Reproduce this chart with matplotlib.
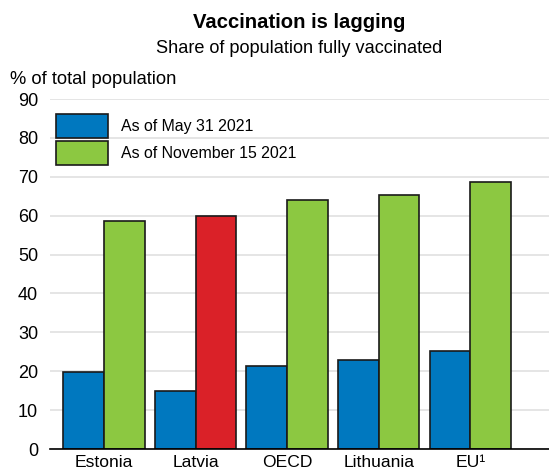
import matplotlib
matplotlib.use("Agg")
import matplotlib.pyplot as plt
import numpy as np
from matplotlib.patches import Patch

plt.rcParams['font.family'] = ['Liberation Sans', 'DejaVu Sans']

categories = ["Estonia", "Latvia", "OECD", "Lithuania", "EU\u00b9"]
may_2021 = [19.7, 14.8, 21.3, 22.8, 25.2]
nov_2021 = [58.7, 59.9, 64.0, 65.3, 68.7]
yticks = [0, 10, 20, 30, 40, 50, 60, 70, 80, 90]
legend_labels = ["As of May 31 2021", "As of November 15 2021"]

blue = "#0078BF"
green = "#8CC841"
red = "#DA2128"
nov_colors = [red if c == "Latvia" else green for c in categories]

fig = plt.figure(figsize=(5.49, 4.72), dpi=100)
ax = fig.add_axes([50/549, 1-449/472, 1-50/549, (449-99)/472])

x = np.arange(len(categories))
w = 0.445
ax.bar(x - w/2, may_2021, width=w, color=blue, edgecolor="#1a1a1a", linewidth=1.2, zorder=3)
ax.bar(x + w/2, nov_2021, width=w, color=nov_colors, edgecolor="#1a1a1a", linewidth=1.2, zorder=3)

ax.set_ylim(0, 90)
ax.set_xlim(-0.59, 4.86)
ax.set_yticks(yticks)
ax.set_xticks(x)
ax.set_xticklabels(categories)
ax.tick_params(axis='y', length=0, labelsize=13, pad=8.6)
ax.tick_params(axis='x', length=0, labelsize=12.6, pad=4.5)
ax.grid(axis='y', color="#e0e0e0", linewidth=1.2, zorder=0)
for s in ["top", "right", "left"]:
    ax.spines[s].set_visible(False)
ax.spines["bottom"].set_color("black")
ax.spines["bottom"].set_linewidth(1.2)
ax.spines["bottom"].set_zorder(4)

handles = [Patch(facecolor=blue, edgecolor="#1a1a1a", linewidth=1.2),
           Patch(facecolor=green, edgecolor="#1a1a1a", linewidth=1.2)]
ax.legend(handles, legend_labels,
          loc="upper left", bbox_to_anchor=(0.0, 0.975), frameon=False,
          fontsize=11.4, handlelength=3.3, handleheight=1.955, handletextpad=0.82,
          labelspacing=0.19, borderpad=0, borderaxespad=0.38)

cx = 299.5/549
fig.text(cx, 1-28/472, "Vaccination is lagging", ha="center", va="baseline",
         fontsize=14.6, fontweight="bold")
fig.text(cx, 1-53/472, "Share of population fully vaccinated", ha="center",
         va="baseline", fontsize=13.1)
fig.text(10/549, 1-84/472, "% of total population", ha="left", va="baseline",
         fontsize=13.2)

fig.savefig("out.png", dpi=100)
